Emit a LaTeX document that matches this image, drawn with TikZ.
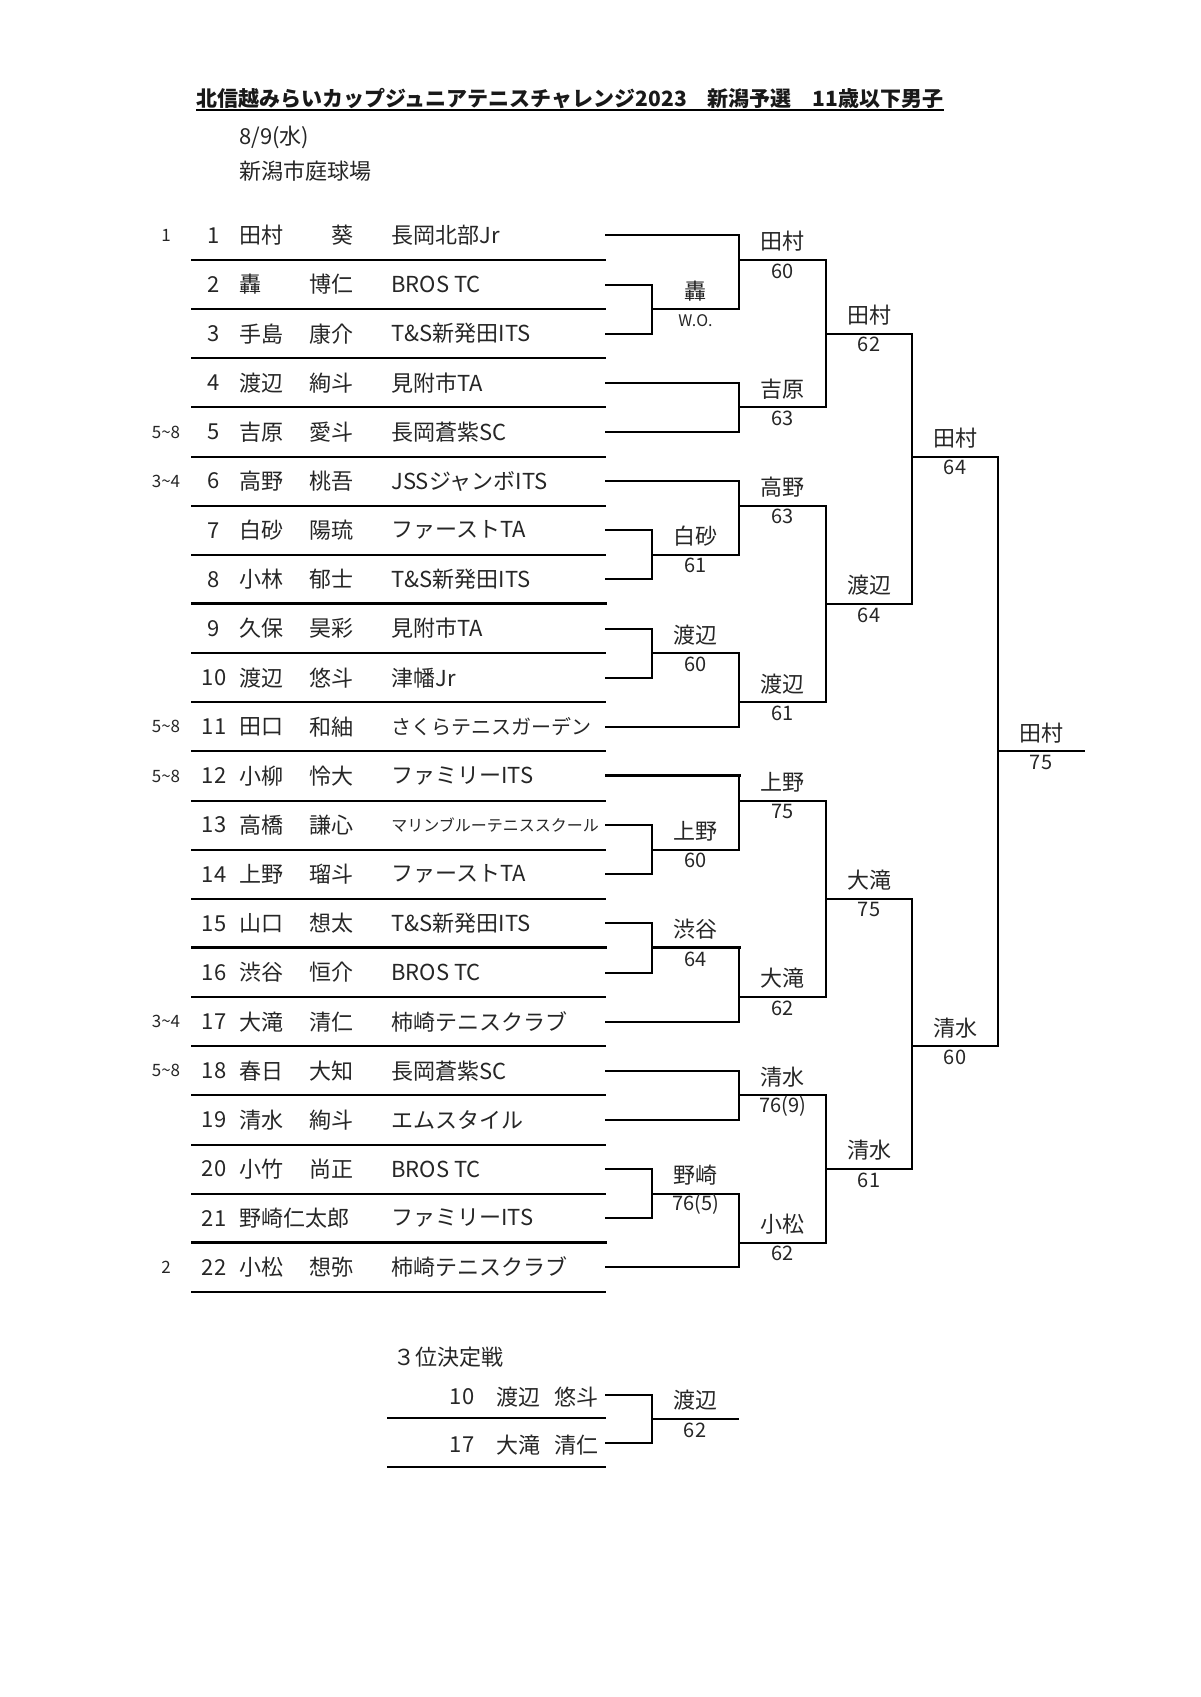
\documentclass[tikz,border=0pt]{standalone}
\usepackage{fontspec}
\setmainfont{Noto Sans CJK JP}
\usetikzlibrary{calc}
\newcommand\prow[5]{%
  \node[seedtxt] (s#1) at (166,{Yk(2*#1-1)}) {#2};
  \node[rowtxt] (n#1) at (214,{Yk(2*#1-1)}) {#1};
  \node[rowtxt,anchor=west] (a#1) at (239,{Yk(2*#1-1)}) {#3};
  \node[rowtxt,anchor=east] (b#1) at (354,{Yk(2*#1-1)}) {#4};
  \node[rowtxt,anchor=west] (c#1) at (391,{Yk(2*#1-1)}) {#5};
}
% match: col, nextcol, ktop, kbot, kwin, name, score, id
\newcommand\mtch[8]{%
  \coordinate (#8t) at (#1,{Yk(#3)});
  \coordinate (#8b) at (#1,{Yk(#4)});
  \coordinate (#8w) at (#1,{Yk(#5)});
  \coordinate (#8e) at (#2,{Yk(#5)});
  \draw[br] (#8t) -- (#8b);
  \draw[br] (#8w) -- (#8e);
  \node[lbl] (#8n) at ({(#1+#2)/2},{Yk(#5)-18.5}) {#6};
  \node[scr] (#8s) at ({(#1+#2)/2},{Yk(#5)+11}) {#7};
}
\begin{document}
\begin{tikzpicture}[x=0.5pt,y=-0.5pt,
  declare function={Yk(\k)=210.86+24.57*\k;},
  br/.style={line width=1pt,line cap=rect,draw=black},
  thk/.style={line width=1.5pt,line cap=rect,draw=black},
  rowtxt/.style={inner sep=0pt,font=\fontsize{11}{13}\selectfont,text=black!85},
  seedtxt/.style={inner sep=0pt,font=\fontsize{8.5}{10}\selectfont,text=black!85},
  lbl/.style={inner sep=0pt,font=\fontsize{11}{13}\selectfont,text=black!85},
  scr/.style={inner sep=0pt,font=\fontsize{10}{12}\selectfont,text=black!85},
]
\useasboundingbox[fill=white] (0,0) rectangle (1200,1697);

% header
\node[inner sep=0pt,anchor=west,font=\bfseries\fontsize{10.5}{12}\selectfont,text=black!90] (title) at (196,99)
  {北信越みらいカップジュニアテニスチャレンジ2023　新潟予選　11歳以下男子};
\draw[line width=1pt] ($(title.west)+(0,11)$) coordinate (ul1) -- ($(title.east)+(0,11)$) coordinate (ul2);
\node[rowtxt,anchor=west] (date) at (239,137) {8/9(水)};
\node[rowtxt,anchor=west] (venue) at (239,171) {新潟市庭球場};

% rows
\prow{1}{1}{田村}{葵}{長岡北部Jr}
\prow{2}{}{轟}{博仁}{BROS TC}
\prow{3}{}{手島}{康介}{T\&S新発田ITS}
\prow{4}{}{渡辺}{絢斗}{見附市TA}
\prow{5}{5\textasciitilde 8}{吉原}{愛斗}{長岡蒼紫SC}
\prow{6}{3\textasciitilde 4}{高野}{桃吾}{JSSジャンボITS}
\prow{7}{}{白砂}{陽琉}{ファーストTA}
\prow{8}{}{小林}{郁士}{T\&S新発田ITS}
\prow{9}{}{久保}{昊彩}{見附市TA}
\prow{10}{}{渡辺}{悠斗}{津幡Jr}
\prow{11}{5\textasciitilde 8}{田口}{和紬}{{\fontsize{10}{12}\selectfont さくらテニスガーデン}}
\prow{12}{5\textasciitilde 8}{小柳}{怜大}{ファミリーITS}
\prow{13}{}{高橋}{謙心}{{\fontsize{8}{10}\selectfont マリンブルーテニススクール}}
\prow{14}{}{上野}{瑠斗}{ファーストTA}
\prow{15}{}{山口}{想太}{T\&S新発田ITS}
\prow{16}{}{渋谷}{恒介}{BROS TC}
\prow{17}{3\textasciitilde 4}{大滝}{清仁}{柿崎テニスクラブ}
\prow{18}{5\textasciitilde 8}{春日}{大知}{長岡蒼紫SC}
\prow{19}{}{清水}{絢斗}{エムスタイル}
\prow{20}{}{小竹}{尚正}{BROS TC}
\prow{21}{}{野崎仁太郎}{}{ファミリーITS}
\prow{22}{2}{小松}{想弥}{柿崎テニスクラブ}

% row separator lines
\foreach \i in {1,...,7,9,10,11,12,13,14,16,17,18,19,20,22}
  \draw[br] (192,{Yk(2*\i)}) -- (605,{Yk(2*\i)});
\foreach \i in {8,15,21}
  \draw[thk] (192,{Yk(2*\i)}) -- (605,{Yk(2*\i)});

% stubs
\foreach \i in {2,3,7,8,9,10,13,14,15,16,20,21}
  \draw[br] (606,{Yk(2*\i-1)}) -- (652,{Yk(2*\i-1)});
\foreach \i in {1,4,5,6,11,17,18,19,22}
  \draw[br] (606,{Yk(2*\i-1)}) -- (739,{Yk(2*\i-1)});
\draw[thk] (606,{Yk(23)}) -- (739,{Yk(23)});

% round 1
\mtch{652}{739}{3}{5}{4}{轟}{{\fontsize{8}{10}\selectfont W.O.}}{ra}
\mtch{652}{739}{13}{15}{14}{白砂}{61}{rb}
\mtch{652}{739}{17}{19}{18}{渡辺}{60}{rc}
\mtch{652}{739}{25}{27}{26}{上野}{60}{rd}
\mtch{652}{739}{29}{31}{30}{渋谷}{64}{re}
\draw[thk] (652,{Yk(30)}) -- (739,{Yk(30)});
\mtch{652}{739}{39}{41}{40}{野崎}{76(5)}{rf}
% round 2
\mtch{739}{826}{1}{4}{2}{田村}{60}{qa}
\mtch{739}{826}{7}{9}{8}{吉原}{63}{qb}
\mtch{739}{826}{11}{14}{12}{高野}{63}{qc}
\mtch{739}{826}{18}{21}{20}{渡辺}{61}{qd}
\mtch{739}{826}{23}{26}{24}{上野}{75}{qe}
\mtch{739}{826}{30}{33}{32}{大滝}{62}{qf}
\mtch{739}{826}{35}{37}{36}{清水}{76(9)}{qg}
\mtch{739}{826}{40}{43}{42}{小松}{62}{qh}
% round 3
\mtch{826}{912}{2}{8}{5}{田村}{62}{pa}
\mtch{826}{912}{12}{20}{16}{渡辺}{64}{pb}
\mtch{826}{912}{24}{32}{28}{大滝}{75}{pc}
\mtch{826}{912}{36}{42}{39}{清水}{61}{pd}
% semifinals
\mtch{912}{998}{5}{16}{10}{田村}{64}{sa}
\mtch{912}{998}{28}{39}{34}{清水}{60}{sb}
% final
\mtch{998}{1084}{10}{34}{22}{田村}{75}{fa}

% third place
\node[rowtxt,anchor=west] (tp) at (393,1357) {３位決定戦};
\node[rowtxt] (t1n) at (462,1397) {10};
\node[rowtxt,anchor=west] (t1a) at (496,1397) {渡辺};
\node[rowtxt,anchor=east] (t1b) at (599,1397) {悠斗};
\node[rowtxt] (t2n) at (462,1445) {17};
\node[rowtxt,anchor=west] (t2a) at (496,1445) {大滝};
\node[rowtxt,anchor=east] (t2b) at (599,1445) {清仁};
\draw[br] (388,1418) -- (605,1418);
\draw[br] (388,1467) -- (605,1467);
\coordinate (tA) at (606,1395);
\coordinate (tB) at (606,1443);
\coordinate (tV1) at (652,1395);
\coordinate (tV2) at (652,1443);
\coordinate (tW) at (652,1419);
\coordinate (tE) at (738,1419);
\draw[br] (tA) -- (tV1) -- (tV2) -- (tB);
\draw[br] (tW) -- (tE);
\node[lbl] (tn) at (695,1400) {渡辺};
\node[scr] (ts) at (695,1430) {62};
\end{tikzpicture}
\end{document}
